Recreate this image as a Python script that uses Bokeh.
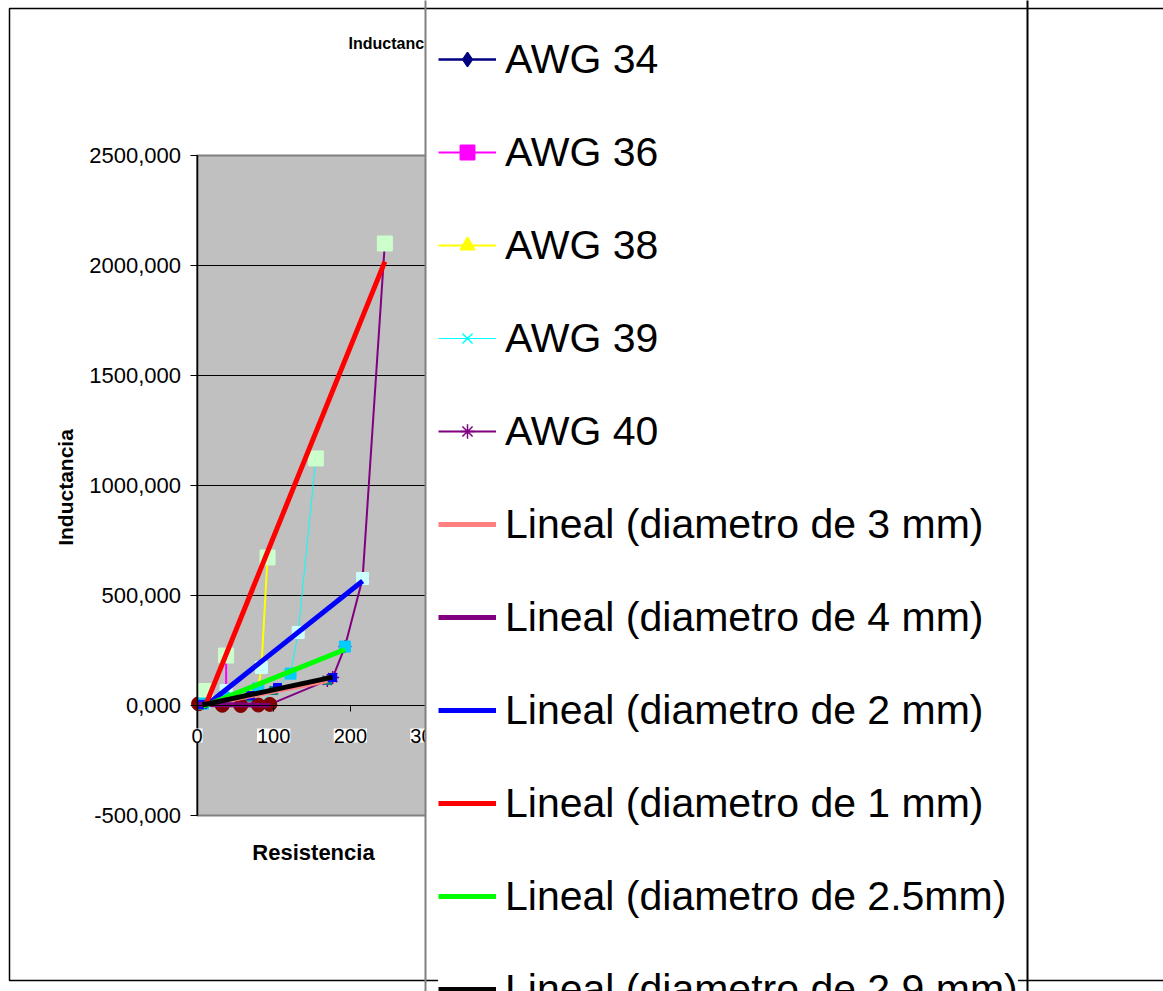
import math
import numpy as np
from bokeh.plotting import figure
from bokeh.models import (Legend, LegendItem, Label, BoxAnnotation, FixedTicker,
                          CustomJSTickFormatter, Range1d)
from bokeh.embed import file_html
from bokeh.resources import INLINE

# ---------------- data (Resistencia, Inductancia) ----------------
# order of points inside each diameter series: AWG 34, 36, 38, 39, 40
awg_names = ["AWG 34", "AWG 36", "AWG 38", "AWG 39", "AWG 40"]

d1_r = [11, 38, 92, 155, 245]
d1_l = [66, 227, 673, 1123, 2100]
d2_r = [9, 38, 84, 132, 216]
d2_l = [14, 68, 173, 332, 577]
d25_r = [8, 35, 80, 122, 193]
d25_l = [9, 36, 77, 145, 268]
d29_r = [7, 33, 70, 105, 177]
d29_l = [5, 18, 45, 82, 127]
d3_r = [8, 32, 68, 100, 170]
d3_l = [5, 16, 38, 68, 114]
d4_r = [2, 33, 57, 80, 95]
d4_l = [8, 1, 0, 2, 5]

# diameter series in legend order of their trend lines
diam_names = ["diametro de 3 mm", "diametro de 4 mm", "diametro de 2 mm",
              "diametro de 1 mm", "diametro de 2.5mm", "diametro de 2.9 mm"]
diam_r = [d3_r, d4_r, d2_r, d1_r, d25_r, d29_r]
diam_l = [d3_l, d4_l, d2_l, d1_l, d25_l, d29_l]

# AWG curves go through the diameters 1, 2, 2.5, 2.9, 3, 4 mm
awg_order_r = [d1_r, d2_r, d25_r, d29_r, d3_r, d4_r]
awg_order_l = [d1_l, d2_l, d25_l, d29_l, d3_l, d4_l]

x_ticks = [0, 100, 200, 300]
y_ticks = [-500, 0, 500, 1000, 1500, 2000, 2500]
x_min, x_max = 0, 300
y_min, y_max = -500, 2500

title_text = "Inductancia vs Resistencia"
x_title = "Resistencia"
y_title = "Inductancia"

# ---------------- styles ----------------
awg_colors = ["#000080", "#FF00FF", "#FFFF00", "#00FFFF", "#800080"]
awg_markers = ["diamond", "square", "triangle", "x", "asterisk"]
awg_msize = [10, 8, 10, 8, 13]
awg_lw = [2.5, 2, 2, 1, 2]

diam_mcolor = ["#008080", "#800000", "#CCFFFF", "#CCFFCC", "#00CCFF", "#0000FF"]
diam_marker = ["square", "circle", "square", "square", "square", "square"]
diam_msize = [8, 14, 12, 15, 11, 8]
trend_colors = ["#FF8080", "#800080", "#0000FF", "#FF0000", "#00FF00", "#000000"]

FONT = "Liberation Sans"

# canvas geometry (pixels)
W, H = 1163, 991
PA_L, PA_R, PA_T, PA_B = 196.5, 426.5, 155, 815
LEG_L, LEG_R = 425, 1027

sx = (x_max - x_min) / (PA_R - PA_L)
sy = (y_max - y_min) / (PA_B - PA_T)
xr = Range1d(x_min - PA_L * sx, x_min + (W - PA_L) * sx)
yr = Range1d(y_max - (H - PA_T) * sy, y_max + PA_T * sy)

p = figure(width=W, height=H, output_backend="svg", toolbar_location=None,
           x_range=xr, y_range=yr,
           min_border_left=0, min_border_right=0, min_border_top=0, min_border_bottom=0)
p.background_fill_color = "white"
p.border_fill_color = "white"
p.outline_line_color = None
p.grid.visible = False

# grey plot area
p.add_layout(BoxAnnotation(left=x_min, right=x_max, bottom=y_min, top=y_max,
                           fill_color="#C0C0C0", fill_alpha=1.0,
                           line_color="#808080", line_alpha=1.0, line_width=2, level="image"))

# horizontal gridlines inside the plot area
grid_y = [t for t in y_ticks if y_min < t < y_max]
p.segment(x0=[x_min] * len(grid_y), y0=grid_y, x1=[x_max] * len(grid_y), y1=grid_y,
          line_color="black", line_width=1)

# y axis at x = 0
p.yaxis.fixed_location = x_min
p.yaxis.bounds = (y_min, y_max)
p.yaxis.ticker = FixedTicker(ticks=y_ticks)
p.yaxis.formatter = CustomJSTickFormatter(code="return tick.toFixed(3).replace('.', ',');")
p.yaxis.major_label_text_font = FONT
p.yaxis.major_label_text_font_size = "22px"
p.yaxis.major_label_text_color = "black"
p.yaxis.major_tick_in = 0
p.yaxis.major_tick_out = 7
p.yaxis.major_tick_line_color = "black"
p.yaxis.minor_tick_line_color = None
p.yaxis.major_label_standoff = 9
p.yaxis.axis_line_color = "black"
p.yaxis.axis_line_width = 1.5

# x axis crossing at y = 0
p.xaxis.fixed_location = 0
p.xaxis.bounds = (x_min, x_max)
p.xaxis.ticker = FixedTicker(ticks=x_ticks)
p.xaxis.major_tick_in = 0
p.xaxis.major_tick_out = 6
p.xaxis.major_tick_line_color = "black"
p.xaxis.minor_tick_line_color = None
p.xaxis.axis_line_color = "black"
p.xaxis.major_label_text_color = None

# AWG series
legend_items = []
for i, name in enumerate(awg_names):
    xs = [s[i] for s in awg_order_r]
    ys = [s[i] for s in awg_order_l]
    ln = p.line(xs, ys, line_color=awg_colors[i], line_width=awg_lw[i])
    sc = p.scatter(xs, ys, marker=awg_markers[i], size=awg_msize[i],
                   fill_color=awg_colors[i], line_color=awg_colors[i], line_width=1.5)
    legend_items.append(LegendItem(label=name, renderers=[ln, sc]))

# diameter series markers
for j in range(len(diam_names)):
    p.scatter(diam_r[j], diam_l[j], marker=diam_marker[j], size=diam_msize[j],
              fill_color=diam_mcolor[j], line_color=diam_mcolor[j])

# linear trend lines of the diameter series
for j, name in enumerate(diam_names):
    xv = np.array(diam_r[j], dtype=float)
    yv = np.array(diam_l[j], dtype=float)
    k, b = np.polyfit(xv, yv, 1)
    tx = [xv.min(), xv.max()]
    ty = [k * tx[0] + b, k * tx[1] + b]
    tl = p.line(tx, ty, line_color=trend_colors[j], line_width=5)
    legend_items.append(LegendItem(label="Lineal (" + name + ")", renderers=[tl]))

# x tick labels with white background
for v in x_ticks:
    p.add_layout(Label(x=v, y=0, y_offset=-30, text=str(v), text_align="center",
                       text_baseline="middle", text_font=FONT, text_font_size="20px",
                       text_color="black", background_fill_color="white",
                       background_fill_alpha=1.0))

# titles (screen units: from left, from bottom)
p.add_layout(Label(x=348, y=H - 43, x_units="screen", y_units="screen",
                   text=title_text, text_font=FONT, text_font_style="bold", text_color="black",
                   text_font_size="16px", text_baseline="middle", text_align="left"))
p.add_layout(Label(x=313, y=H - 852, x_units="screen", y_units="screen",
                   text=x_title, text_font=FONT, text_font_style="bold", text_color="black",
                   text_font_size="22px", text_baseline="middle", text_align="center"))
p.add_layout(Label(x=65, y=H - 487, x_units="screen", y_units="screen", angle=math.pi / 2,
                   text=y_title, text_font=FONT, text_font_style="bold", text_color="black",
                   text_font_size="21px", text_baseline="middle", text_align="center"))

# white legend panel (covers the right part of the chart)
p.add_layout(BoxAnnotation(left=LEG_L, right=LEG_R, top=H + 50, bottom=-50,
                           left_units="screen", right_units="screen",
                           top_units="screen", bottom_units="screen",
                           fill_color="white", fill_alpha=1.0, line_color=None,
                           level="annotation"))

ITEM_H, SPACING = 48, 45
n_items = len(legend_items)
LEG_H = n_items * ITEM_H + (n_items - 1) * SPACING
LEG_TOP = 59 - ITEM_H // 2
legend = Legend(items=legend_items, location=(438, H - (LEG_TOP + LEG_H)), padding=0,
                spacing=SPACING, glyph_width=58, glyph_height=36, label_height=ITEM_H,
                label_standoff=9, label_text_font=FONT, label_text_font_size="41px",
                label_text_color="black", border_line_color=None,
                background_fill_color="white", background_fill_alpha=1.0, margin=0)
p.add_layout(legend)

# chart border and legend edges
p.add_layout(BoxAnnotation(left=9, right=3000, top=H - 8, bottom=H - 980,
                           left_units="screen", right_units="screen",
                           top_units="screen", bottom_units="screen",
                           fill_color=None, fill_alpha=0, line_color="black",
                           line_alpha=1.0, line_width=1.5, level="overlay"))
p.add_layout(BoxAnnotation(left=LEG_L, right=3000, top=3000, bottom=-3000,
                           left_units="screen", right_units="screen",
                           top_units="screen", bottom_units="screen",
                           fill_color=None, fill_alpha=0, line_color="#808080",
                           line_alpha=1.0, line_width=2, level="overlay"))
p.add_layout(BoxAnnotation(left=LEG_R, right=3000, top=3000, bottom=-3000,
                           left_units="screen", right_units="screen",
                           top_units="screen", bottom_units="screen",
                           fill_color=None, fill_alpha=0, line_color="black",
                           line_alpha=1.0, line_width=2, level="overlay"))

open("out.html", "w").write(file_html(p, INLINE))
